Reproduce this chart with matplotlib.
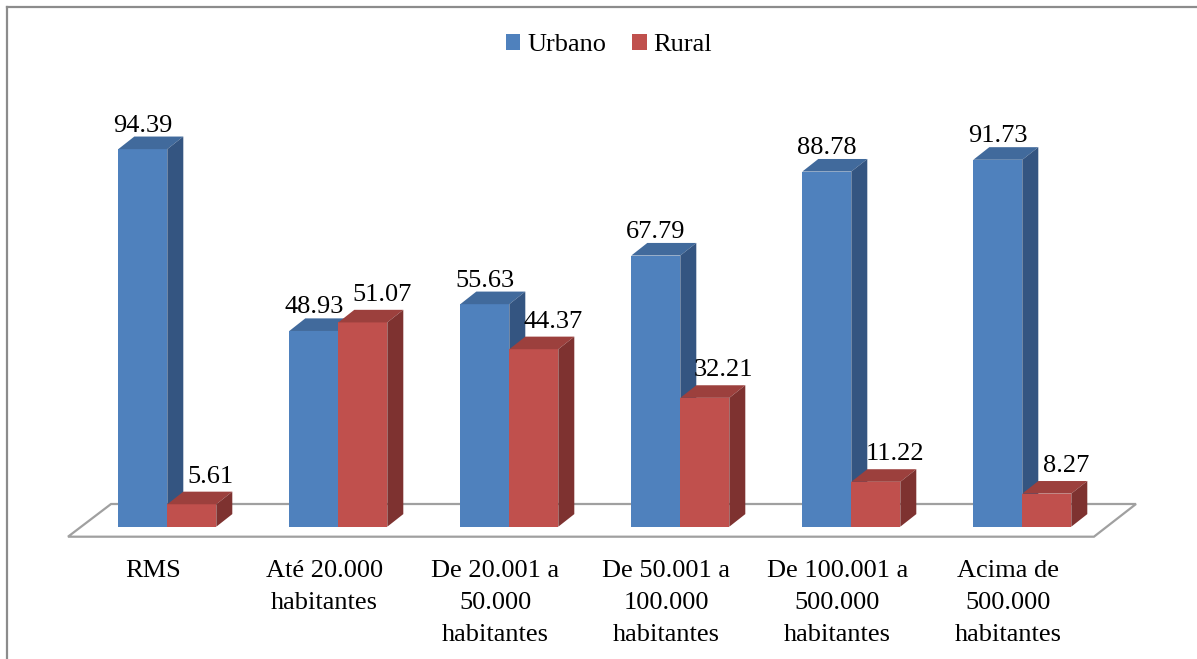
import matplotlib
matplotlib.use("Agg")
import matplotlib.pyplot as plt
from matplotlib.patches import Polygon, Patch
from matplotlib.lines import Line2D

# ---- data ----
categories = ["RMS", "Até 20.000\nhabitantes", "De 20.001 a\n50.000\nhabitantes",
              "De 50.001 a\n100.000\nhabitantes", "De 100.001 a\n500.000\nhabitantes",
              "Acima de\n500.000\nhabitantes"]
urbano = [94.39, 48.93, 55.63, 67.79, 88.78, 91.73]
rural = [5.61, 51.07, 44.37, 32.21, 11.22, 8.27]
series_names = ["Urbano", "Rural"]

# ---- style ----
W, H = 1197, 659
FONT = "Liberation Serif"
FS = 19
plt.rcParams['font.family'] = [FONT, 'DejaVu Serif']

front_cols = ["#4F81BD", "#C0504D"]
top_cols = ["#416A9C", "#9C403D"]
side_cols = ["#345581", "#7E3230"]

group_px = 171.0      # pixels per category
unit_px = 4.0         # pixels per value unit
x0_px = 167.3         # pixel x of group 0 center
y0_px = 526.7         # pixel y (from top) of value 0

fig = plt.figure(figsize=(W / 100, H / 100), dpi=100)
ax = fig.add_axes([0, 0, 1, 1])
ax.set_xlim(-x0_px / group_px, (W - x0_px) / group_px)
ax.set_ylim(-(H - y0_px) / unit_px, y0_px / unit_px)
ax.axis("off")

px = 1.0 / group_px
py = 1.0 / unit_px
bw = 49 * px
ddx, ddy = 16 * px, 12.6 * py

# floor
fl_front_y, fl_back_y = -10 * py, 22.7 * py
floor = Polygon([(-0.5807, fl_front_y), (5.419, fl_front_y),
                 (5.665, fl_back_y), (-0.329, fl_back_y)],
                closed=True, facecolor="white", edgecolor="#A0A0A0", lw=1.6, zorder=1)
ax.add_patch(floor)

n = len(categories)
xs = list(range(n))

for i in xs:
    for s, vals in enumerate([urbano, rural]):
        left = i - bw if s == 0 else i
        h = vals[i]
        z = 2 + i * 2 + s
        ax.bar(left, h, width=bw, align="edge", color=front_cols[s], zorder=z, lw=0)
        right = left + bw
        top = Polygon([(left, h), (right, h), (right + ddx, h + ddy), (left + ddx, h + ddy)],
                      closed=True, facecolor=top_cols[s], edgecolor="none", zorder=z)
        side = Polygon([(right, 0), (right + ddx, ddy), (right + ddx, h + ddy), (right, h)],
                       closed=True, facecolor=side_cols[s], edgecolor="none", zorder=z)
        ax.add_patch(top)
        ax.add_patch(side)
        # value label
        if s == 0:
            lx = left + bw / 2
            ly = h + ddy + 5 * py
        else:
            lx = left + bw / 2 + 19 * px
            ly = h + ddy + 9 * py
        ax.text(lx, ly, f"{h:.2f}", ha="center", va="baseline", fontsize=FS,
                family=FONT, color="black", zorder=50)

# category labels
for i, lab in zip(xs, categories):
    ax.text(i - 14 * px, -(560 - y0_px) * py, lab, ha="center", va="top",
            fontsize=FS, family=FONT, linespacing=1.6, color="black",
            multialignment="center")

# legend
handles = [Patch(facecolor=front_cols[k], edgecolor="none") for k in range(2)]
leg = fig.legend(handles, series_names, loc="center", bbox_to_anchor=(609 / W, 1 - 45 / H),
                 ncol=2, frameon=False, handlelength=0.55, handleheight=0.55,
                 handletextpad=0.25, columnspacing=1.0, prop={"family": FONT, "size": FS})

# chart border (only top and left visible)
fig.add_artist(Line2D([7 / W, 7 / W], [0, 1 - 7 / H], color="#8C8C8C", lw=1.6))
fig.add_artist(Line2D([7 / W, 1], [1 - 7 / H, 1 - 7 / H], color="#8C8C8C", lw=1.6))

fig.savefig("out.png", dpi=100)
